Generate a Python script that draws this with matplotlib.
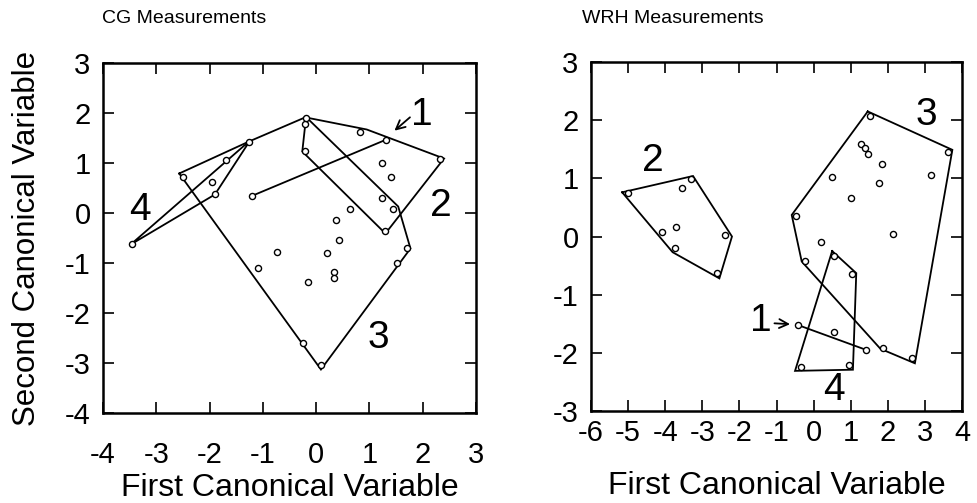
import matplotlib
matplotlib.use("Agg")
import matplotlib.pyplot as plt
import numpy as np

plt.rcParams['font.family'] = ['Liberation Sans', 'DejaVu Sans']

# ---------------- CG Measurements (left panel) ----------------
cg_g1_x = [-1.21, 1.32]
cg_g1_y = [0.34, 1.47]

cg_g2_x = [-0.21, -0.21, 0.83, 2.32, 1.24, 1.41, 1.24, 1.44, 1.30]
cg_g2_y = [1.78, 1.24, 1.63, 1.08, 1.01, 0.73, 0.31, 0.09, -0.36]
cg_g2_hx = [-0.19, 0.95, 2.40, 1.30, -0.26]
cg_g2_hy = [1.91, 1.67, 1.09, -0.41, 1.23]

cg_g3_x = [-2.50, -0.19, 0.64, 0.37, 0.43, 0.21, -0.74, -1.09, 0.33, 0.33,
           -0.16, 1.70, 1.51, -0.24, 0.09]
cg_g3_y = [0.73, 1.90, 0.09, -0.13, -0.54, -0.80, -0.77, -1.10, -1.17, -1.29,
           -1.37, -0.69, -0.99, -2.59, -3.04]
cg_g3_hx = [-2.57, -1.26, -0.19, 1.54, 1.77, 0.09]
cg_g3_hy = [0.79, 1.43, 1.92, 0.13, -0.71, -3.13]

cg_g4_x = [-3.46, -1.26, -1.69, -1.96, -1.90]
cg_g4_y = [-0.62, 1.43, 1.07, 0.63, 0.39]
cg_g4_hx = [-3.48, -1.24, -1.90]
cg_g4_hy = [-0.63, 1.45, 0.37]

# ---------------- WRH Measurements (right panel) ----------------
wr_g1_x = [-0.43, 1.42]
wr_g1_y = [-1.52, -1.95]

wr_g2_x = [-5.01, -3.30, -3.54, -4.09, -3.70, -3.74, -2.38, -2.60]
wr_g2_y = [0.74, 0.99, 0.84, 0.07, 0.17, -0.20, 0.02, -0.62]
wr_g2_hx = [-5.16, -3.25, -2.20, -2.54, -3.80]
wr_g2_hy = [0.76, 1.04, 0.00, -0.72, -0.27]

wr_g3_x = [1.51, 3.61, 1.29, 1.38, 1.46, 1.84, 1.76, 3.16, 0.50, 1.00,
           2.15, 0.19, -0.48, -0.23, 1.88, 2.64]
wr_g3_y = [2.08, 1.45, 1.59, 1.52, 1.42, 1.24, 0.92, 1.05, 1.03, 0.66,
           0.04, -0.09, 0.36, -0.42, -1.91, -2.09]
wr_g3_hx = [1.46, 3.74, 2.73, 1.80, -0.32, -0.59]
wr_g3_hy = [2.15, 1.49, -2.18, -1.93, -0.43, 0.37]

wr_g4_x = [0.55, 1.04, 0.55, 0.96, -0.34]
wr_g4_y = [-0.34, -0.65, -1.65, -2.21, -2.24]
wr_g4_hx = [0.50, 1.15, 1.06, -0.50]
wr_g4_hy = [-0.25, -0.63, -2.29, -2.31]

cg_xticks = list(range(-4, 4))
cg_yticks = list(range(-4, 4))
wr_xticks = list(range(-6, 5))
wr_yticks = list(range(-3, 4))

fig = plt.figure(figsize=(9.77, 5.03), dpi=100)
ax1 = fig.add_axes([103/977, 1 - 413/503, 373/977, 350/503])
ax2 = fig.add_axes([591/977, 1 - 411/503, 371/977, 349/503])

LW = 1.3
MS = 4.4

def poly(ax, hx, hy):
    ax.plot(list(hx) + [hx[0]], list(hy) + [hy[0]], color='black', lw=LW,
            solid_joinstyle='miter')

def pts(ax, x, y):
    ax.plot(x, y, linestyle='none', marker='o', ms=MS, mfc='white',
            mec='black', mew=1.0, zorder=3)

def style(ax, xt, yt):
    ax.set_xlim(xt[0], xt[-1])
    ax.set_ylim(yt[0], yt[-1])
    ax.set_xticks(xt)
    ax.set_yticks(yt)
    ax.set_xticklabels([str(v) for v in xt])
    ax.set_yticklabels([str(v) for v in yt])
    ax.tick_params(direction='in', top=True, right=True, length=8, width=1.2,
                   labelsize=21)
    ax.tick_params(axis='x', pad=20)
    ax.tick_params(axis='y', pad=9)
    for s in ax.spines.values():
        s.set_linewidth(1.8)

GL = 28

# left
poly(ax1, cg_g2_hx, cg_g2_hy)
poly(ax1, cg_g3_hx, cg_g3_hy)
poly(ax1, cg_g4_hx, cg_g4_hy)
ax1.plot(cg_g1_x, cg_g1_y, color='black', lw=LW)
for x, y in [(cg_g1_x, cg_g1_y), (cg_g2_x, cg_g2_y), (cg_g3_x, cg_g3_y), (cg_g4_x, cg_g4_y)]:
    pts(ax1, x, y)
style(ax1, cg_xticks, cg_yticks)
ax1.text(-3.31, 0.06, '4', fontsize=GL, ha='center', va='center')
ax1.text(1.98, 1.96, '1', fontsize=GL, ha='center', va='center')
ax1.text(2.34, 0.13, '2', fontsize=GL, ha='center', va='center')
ax1.text(1.16, -2.51, '3', fontsize=GL, ha='center', va='center')
ax1.annotate('', xy=(1.43, 1.61), xytext=(1.80, 1.95),
             arrowprops=dict(arrowstyle='->', lw=1.3, color='black',
                             mutation_scale=16))
ax1.set_xlabel('First Canonical Variable', fontsize=23, labelpad=3)
ax1.set_ylabel('Second Canonical Variable', fontsize=22.5, labelpad=16)

# right
poly(ax2, wr_g2_hx, wr_g2_hy)
poly(ax2, wr_g3_hx, wr_g3_hy)
poly(ax2, wr_g4_hx, wr_g4_hy)
ax2.plot(wr_g1_x, wr_g1_y, color='black', lw=LW)
for x, y in [(wr_g1_x, wr_g1_y), (wr_g2_x, wr_g2_y), (wr_g3_x, wr_g3_y), (wr_g4_x, wr_g4_y)]:
    pts(ax2, x, y)
style(ax2, wr_xticks, wr_yticks)
ax2.tick_params(axis='x', pad=6)
ax2.text(-4.32, 1.29, '2', fontsize=GL, ha='center', va='center')
ax2.text(3.03, 2.09, '3', fontsize=GL, ha='center', va='center')
ax2.text(0.55, -2.64, '4', fontsize=GL, ha='center', va='center')
ax2.text(-1.41, -1.45, '1', fontsize=GL, ha='center', va='center')
ax2.annotate('', xy=(-0.56, -1.51), xytext=(-1.13, -1.49),
             arrowprops=dict(arrowstyle='->', lw=1.3, color='black',
                             mutation_scale=16))
ax2.set_xlabel('First Canonical Variable', fontsize=23, labelpad=17)

fig.text(102/977, 1 - 10/503, 'CG Measurements', fontsize=14, ha='left', va='top')
fig.text(582/977, 1 - 10/503, 'WRH Measurements', fontsize=14, ha='left', va='top')

fig.savefig('out.png', dpi=100)
